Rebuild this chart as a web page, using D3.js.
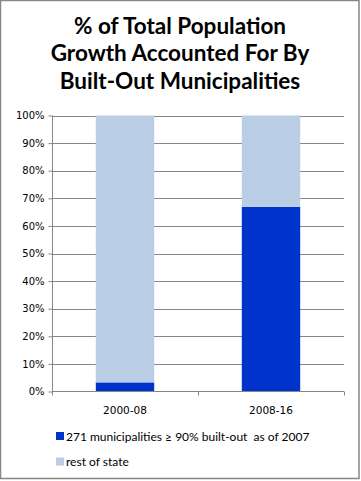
<!DOCTYPE html>
<html><head><meta charset="utf-8">
<script src="https://cdn.jsdelivr.net/npm/d3@7"></script>
<style>body{margin:0;background:#fff}</style>
</head><body>
<script>
const titleLines = ["% of Total Population", "Growth Accounted For By", "Built-Out Municipalities"];
const categories = ["2000-08", "2008-16"];
const seriesNames = ["271 municipalities \u2265 90% built-out  as of 2007", "rest of state"];
const builtOut = [3.3, 66.9];
const restOfState = [96.7, 33.1];
const yTicks = [0, 10, 20, 30, 40, 50, 60, 70, 80, 90, 100];
const colors = ["#0033CC", "#B9CDE5"];

const W = 361, H = 481;
const svg = d3.select("body").append("svg").attr("width", W).attr("height", H);
svg.append("rect").attr("x", 0.5).attr("y", 0.5).attr("width", 358.5).attr("height", 478)
  .attr("fill", "#fff").attr("stroke", "#868686").attr("stroke-width", 1.5);

svg.selectAll("text.title").data(titleLines).join("text").attr("class", "title")
  .attr("x", 180).attr("y", (d, i) => 33.5 + i * 27.5)
  .attr("text-anchor", "middle").attr("font-family", "Lato, 'Open Sans', sans-serif")
  .attr("font-weight", "bold").attr("font-size", 22.5).attr("fill", "#000").text(d => d);

const x = d3.scaleBand().domain(categories).range([52, 344]).paddingInner(0.6).paddingOuter(0.3);
const y = d3.scaleLinear().domain([0, 100]).range([391.5, 115.5]);

// gridlines
svg.append("g").selectAll("line").data(yTicks.filter(d => d > 0)).join("line")
  .attr("x1", 52).attr("x2", 344).attr("y1", d => Math.round(y(d)) + 0.5).attr("y2", d => Math.round(y(d)) + 0.5)
  .attr("stroke", "#868686").attr("stroke-width", 1);

const stackData = categories.map((c, i) => ({cat: c, a: builtOut[i], b: restOfState[i]}));
const stack = d3.stack().keys(["a", "b"])(stackData);
svg.append("g").selectAll("g").data(stack).join("g").attr("fill", (d, i) => colors[i])
  .selectAll("rect").data(d => d).join("rect")
  .attr("x", d => x(d.data.cat)).attr("width", x.bandwidth())
  .attr("y", d => y(d[1])).attr("height", d => y(d[0]) - y(d[1]));

// y axis
const yAxis = d3.axisLeft(y).tickValues(yTicks).tickFormat(d => d + "%").tickSizeOuter(0).tickSize(4);
const gy = svg.append("g").attr("transform", "translate(52.5,0)").call(yAxis);
gy.select(".domain").attr("stroke", "#868686").attr("d", "M0,115.5V395");
gy.selectAll(".tick line").attr("stroke", "#868686");
gy.selectAll(".tick text").attr("font-family", "'DejaVu Sans', Verdana, sans-serif").attr("font-size", 10)
  .attr("fill", "#000").attr("x", -8);

// x axis
const gx = svg.append("g").attr("transform", "translate(0,391.5)");
gx.append("line").attr("x1", 52).attr("x2", 344).attr("stroke", "#868686");
const bounds = [52, 198, 344];
gx.selectAll("line.t").data(bounds).join("line").attr("class", "t")
  .attr("x1", d => d + 0.5).attr("x2", d => d + 0.5).attr("y1", 0).attr("y2", 4).attr("stroke", "#868686");
gx.selectAll("text").data(categories).join("text")
  .attr("x", d => x(d) + x.bandwidth() / 2).attr("y", 22).attr("text-anchor", "middle")
  .attr("font-family", "'DejaVu Sans', Verdana, sans-serif").attr("font-size", 10.5).attr("fill", "#000").text(d => d);

// legend
const lg = svg.append("g");
seriesNames.forEach((n, i) => {
  const yy = 432 + i * 25.5;
  lg.append("rect").attr("x", 56).attr("y", yy).attr("width", 8).attr("height", 8).attr("fill", colors[i]);
  lg.append("text").attr("x", 66).attr("y", yy + 8.5).attr("font-family", "Lato, 'Open Sans', sans-serif")
    .attr("font-size", 12).attr("fill", "#000").attr("xml:space", "preserve").text(n);
});
</script>
</body></html>
